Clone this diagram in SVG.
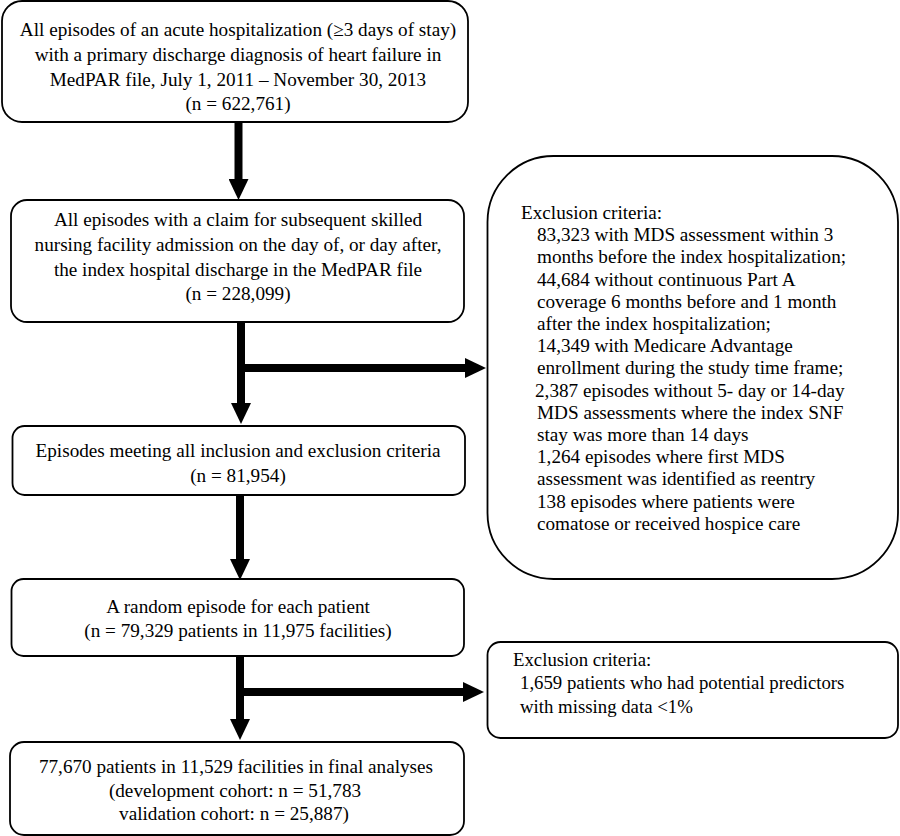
<svg xmlns="http://www.w3.org/2000/svg" width="900" height="836" viewBox="0 0 900 836">
<style>
.box{fill:#fff;stroke:#000;stroke-width:1.8}
.t{font-family:"Liberation Serif","Times New Roman",serif;font-size:19.2px;fill:#000}
.s{font-size:18.8px}
.c{text-anchor:middle}
.con{stroke:#000;stroke-width:8;fill:none}
</style>
<defs>
<marker id="ah" viewBox="0 0 21 20" markerWidth="21" markerHeight="20" refX="0" refY="10" orient="auto" markerUnits="userSpaceOnUse">
<path d="M0,0 L21,10 L0,20 Z" fill="#000"/>
</marker>
</defs>
<rect width="900" height="836" fill="#fff"/>
<g id="connectors">
<line class="con" x1="238.5" y1="122" x2="238.5" y2="179" marker-end="url(#ah)"/>
<line class="con" x1="241" y1="322" x2="241" y2="403" marker-end="url(#ah)"/>
<line class="con" x1="241" y1="368" x2="465" y2="368" marker-end="url(#ah)"/>
<line class="con" x1="240" y1="495" x2="240" y2="559" marker-end="url(#ah)"/>
<line class="con" x1="240" y1="656" x2="240" y2="719" marker-end="url(#ah)"/>
<line class="con" x1="240" y1="692" x2="463" y2="692" marker-end="url(#ah)"/>
</g>
<g id="n1">
<rect class="box" x="2" y="1" width="466" height="121" rx="20"/>
<text class="t c" x="238" y="36">All episodes of an acute hospitalization (≥3 days of stay)</text>
<text class="t c" x="238" y="61">with a primary discharge diagnosis of heart failure in</text>
<text class="t c" x="238" y="86">MedPAR file, July 1, 2011 – November 30, 2013</text>
<text class="t c" x="238" y="110">(n = 622,761)</text>
</g>
<g id="n2">
<rect class="box" x="11" y="200" width="453" height="122" rx="16"/>
<text class="t c" x="238" y="226">All episodes with a claim for subsequent skilled</text>
<text class="t c" x="238" y="251">nursing facility admission on the day of, or day after,</text>
<text class="t c" x="238" y="276">the index hospital discharge in the MedPAR file</text>
<text class="t c" x="238" y="300">(n = 228,099)</text>
</g>
<g id="n3">
<rect class="box" x="12.5" y="426" width="452.5" height="69" rx="12"/>
<text class="t c" x="238" y="457">Episodes meeting all inclusion and exclusion criteria</text>
<text class="t c" x="238" y="482">(n = 81,954)</text>
</g>
<g id="n4">
<rect class="box" x="11.5" y="579" width="452.5" height="77" rx="12"/>
<text class="t c" x="238" y="613">A random episode for each patient</text>
<text class="t c" x="238" y="637">(n = 79,329 patients in 11,975 facilities)</text>
</g>
<g id="n5">
<rect class="box" x="10" y="742" width="454" height="93" rx="14"/>
<text class="t c" x="236" y="773">77,670 patients in 11,529 facilities in final analyses</text>
<text class="t c" x="235" y="797">(development cohort: n = 51,783</text>
<text class="t c" x="234" y="820">validation cohort: n = 25,887)</text>
</g>
<g id="ex1">
<rect class="box" x="487.5" y="156" width="410.5" height="423" rx="66"/>
<text class="t" x="521" y="219">Exclusion criteria:</text>
<text class="t" x="537" y="241.2">83,323 with MDS assessment within 3</text>
<text class="t" x="537" y="263.4">months before the index hospitalization;</text>
<text class="t" x="537" y="285.6">44,684 without continuous Part A</text>
<text class="t" x="537" y="307.8">coverage 6 months before and 1 month</text>
<text class="t" x="537" y="330">after the index hospitalization;</text>
<text class="t" x="537" y="352.2">14,349 with Medicare Advantage</text>
<text class="t" x="537" y="374.4">enrollment during the study time frame;</text>
<text class="t" x="535" y="396.6">2,387 episodes without 5- day or 14-day</text>
<text class="t" x="537" y="418.8">MDS assessments where the index SNF</text>
<text class="t" x="537" y="441">stay was more than 14 days</text>
<text class="t" x="537" y="463.2">1,264 episodes where first MDS</text>
<text class="t" x="537" y="485.4">assessment was identified as reentry</text>
<text class="t" x="537" y="507.6">138 episodes where patients were</text>
<text class="t" x="537" y="529.8">comatose or received hospice care</text>
</g>
<g id="ex2">
<rect class="box" x="487.5" y="642" width="410.5" height="96" rx="13"/>
<text class="t s" x="513" y="666">Exclusion criteria:</text>
<text class="t s" x="520" y="689">1,659 patients who had potential predictors</text>
<text class="t s" x="520" y="713">with missing data &lt;1%</text>
</g>
</svg>
